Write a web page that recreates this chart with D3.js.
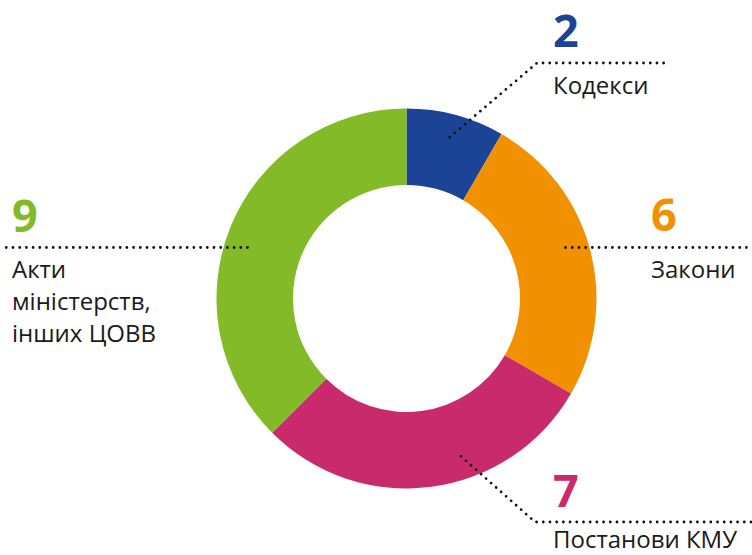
<!DOCTYPE html>
<html>
<head>
<meta charset="utf-8">
<title>Donut</title>
<script src="https://cdn.jsdelivr.net/npm/d3@7"></script>
<style>
  body { margin: 0; background: #fff; }
  svg { display: block; }
  .num { font-family: "Open Sans", sans-serif; font-weight: 700; font-size: 45px; }
  .lbl { font-family: "Open Sans", sans-serif; font-size: 24px; fill: #1a1a1a; }
  .leader { fill: none; stroke: #111; stroke-width: 2.8; stroke-linecap: round; stroke-dasharray: 0 6.7; }
</style>
</head>
<body>
<svg id="chart" width="752" height="555"></svg>
<script>
// data
var categories = ["Кодекси", "Закони", "Постанови КМУ", "Акти міністерств, інших ЦОВВ"];
var values = [2, 6, 7, 9];
var colors = ["#1b4496", "#f29100", "#c92a6b", "#83ba28"];
var labelLines = [["Кодекси"], ["Закони"], ["Постанови КМУ"], ["Акти", "міністерств,", "інших ЦОВВ"]];

var svg = d3.select("#chart");
var cx = 406.5, cy = 298.5, rOut = 190, rIn = 113.5, rDot = 167;

var g = svg.append("g").attr("transform", "translate(" + cx + "," + cy + ")");

var pie = d3.pie().sort(null).value(function(d){ return d; });
var arcs = pie(values);
var arc = d3.arc().innerRadius(rIn).outerRadius(rOut);

g.selectAll("path.slice")
  .data(arcs)
  .enter()
  .append("path")
  .attr("class", "slice")
  .attr("fill", function(d,i){ return colors[i]; })
  .attr("d", arc);

// leader lines + labels
var layout = [
  { frac: 0.5, knee: [537, 63], end: [665, 63], tx: 553, numY: 47, lblY: 94 },
  { y: 247.5, side: 1, end: [752, 247.5], tx: 651, numY: 231, lblY: 278 },
  { frac: 0.39, knee: [535, 522], end: [752, 522], tx: 553, numY: 507, lblY: 548 },
  { y: 247.5, side: -1, end: [4, 247.5], tx: 12, numY: 232, lblY: 278 }
];

function startPoint(d, L) {
  if (L.frac != null) {
    var a = d.startAngle + (d.endAngle - d.startAngle) * L.frac;
    return [cx + rDot * Math.sin(a), cy - rDot * Math.cos(a)];
  }
  var dy = L.y - cy;
  return [cx + L.side * Math.sqrt(rDot * rDot - dy * dy), L.y];
}

var line = d3.line();
arcs.forEach(function(d, i){
  var L = layout[i];
  var p0 = startPoint(d, L);
  var pts = L.knee ? [p0, L.knee, L.end] : [p0, L.end];
  svg.append("path").attr("class", "leader").attr("d", line(pts));

  svg.append("text")
    .attr("class", "num")
    .attr("x", L.tx)
    .attr("y", L.numY)
    .attr("fill", colors[i])
    .text(values[i]);

  var t = svg.append("text").attr("class", "lbl").attr("x", L.tx).attr("y", L.lblY);
  labelLines[i].forEach(function(s, j){
    t.append("tspan").attr("x", L.tx).attr("dy", j === 0 ? 0 : 32).text(s);
  });
});
</script>
</body>
</html>
